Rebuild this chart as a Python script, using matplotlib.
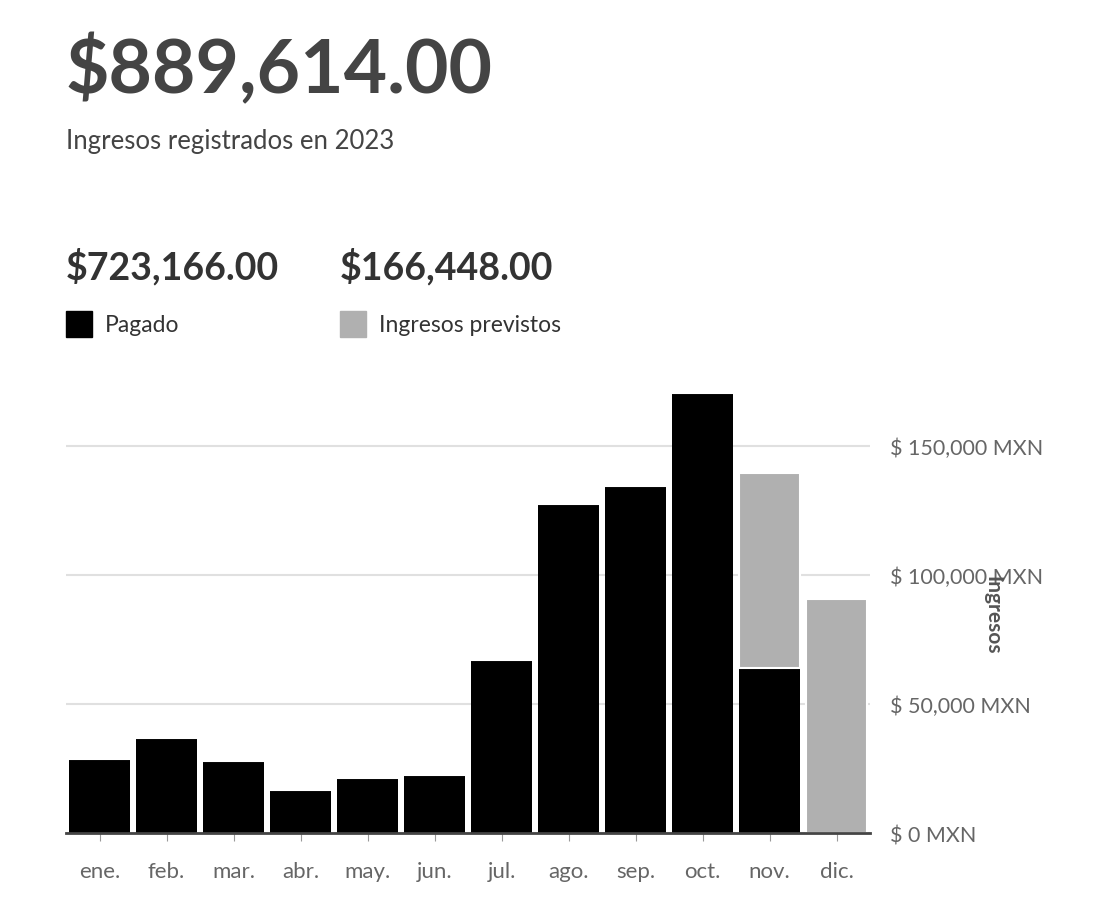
import matplotlib.pyplot as plt
import numpy as np

plt.rcParams['font.family'] = ['Lato', 'DejaVu Sans']

meses = ["ene.", "feb.", "mar.", "abr.", "may.", "jun.", "jul.", "ago.", "sep.", "oct.", "nov.", "dic."]
pagado = [28700, 36800, 27900, 16700, 21300, 22500, 67000, 127500, 134500, 170500, 64000, 0]
previsto = [0, 0, 0, 0, 0, 0, 0, 0, 0, 0, 75500, 90700]
yticks = [0, 50000, 100000, 150000]
ytick_labels = ["$ 0 MXN", "$ 50,000 MXN", "$ 100,000 MXN", "$ 150,000 MXN"]

fig = plt.figure(figsize=(11, 9.03), dpi=100)
ax = fig.add_axes([0.06, 0.0764, 0.731, 0.503])

x = np.arange(len(meses))
ax.bar(x, pagado, width=0.9, color="black", zorder=3)
ax.bar(x, previsto, width=0.9, bottom=pagado, color="#b0b0b0", zorder=3,
       edgecolor="white", linewidth=1.5)

ax.set_xlim(-0.5, 11.5)
ax.set_ylim(0, 176000)
ax.set_xticks(x)
ax.set_xticklabels(meses, fontsize=16, color="#666666")
ax.set_yticks(yticks)
ax.set_yticklabels(ytick_labels, fontsize=15.5, color="#666666")
ax.yaxis.tick_right()
ax.tick_params(axis="y", length=0, pad=14)
ax.tick_params(axis="x", length=6, color="#999999", pad=14)
ax.grid(axis="y", color="#e0e0e0", linewidth=1.5, zorder=0)
for s in ["top", "right", "left"]:
    ax.spines[s].set_visible(False)
ax.spines["bottom"].set_color("#444444")
ax.spines["bottom"].set_linewidth(2)
ax.spines["bottom"].set_zorder(4)

fig.text(992 / 1100, 1 - 615 / 903, "Ingresos", rotation=270, fontsize=15, fontweight="bold",
         color="#555555", ha="center", va="center")

fig.text(0.06, 1 - 70 / 903, "$889,614.00", fontsize=54, fontweight="bold", color="#444444", va="center")
fig.text(0.06, 1 - 142 / 903, "Ingresos registrados en 2023", fontsize=18.5, color="#444444", va="center")
fig.text(0.06, 1 - 267 / 903, "$723,166.00", fontsize=27, fontweight="bold", color="#333333", va="center")
fig.text(0.309, 1 - 267 / 903, "$166,448.00", fontsize=27, fontweight="bold", color="#333333", va="center")

fig.patches.append(plt.Rectangle((66 / 1100, 1 - 338 / 903), 26 / 1100, 26 / 903,
                                 transform=fig.transFigure, color="black"))
fig.patches.append(plt.Rectangle((340 / 1100, 1 - 338 / 903), 26 / 1100, 26 / 903,
                                 transform=fig.transFigure, color="#b0b0b0"))
fig.text(105 / 1100, 1 - 325 / 903, "Pagado", fontsize=16.5, color="#333333", va="center")
fig.text(379 / 1100, 1 - 325 / 903, "Ingresos previstos", fontsize=16.5, color="#333333", va="center")

fig.savefig("out.png", dpi=100)
